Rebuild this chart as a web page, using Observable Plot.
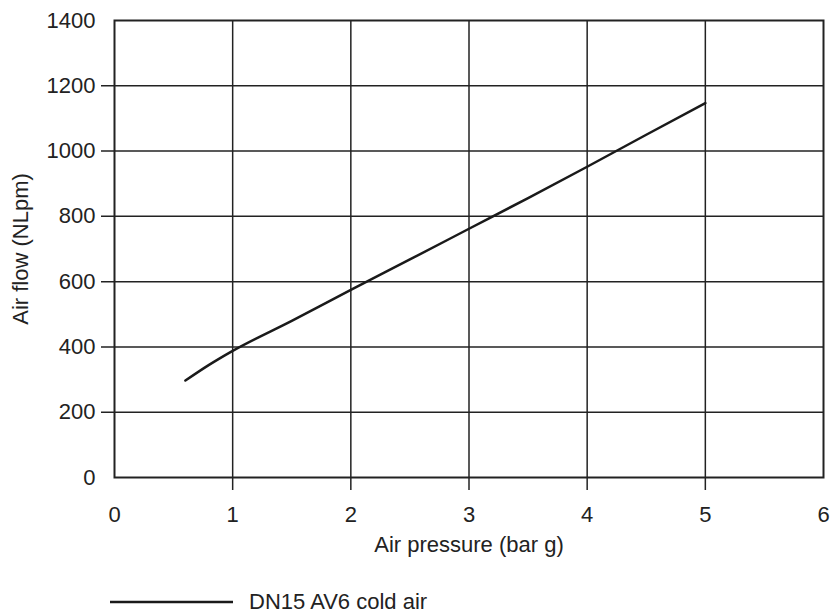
<!DOCTYPE html>
<html>
<head>
<meta charset="utf-8">
<script src="https://cdn.jsdelivr.net/npm/d3@7"></script>
<script src="https://cdn.jsdelivr.net/npm/@observablehq/plot@0.6"></script>
<style>
  body { margin: 0; background: #fff; font-family: "Liberation Sans", Arial, sans-serif; }
  #legend { display: flex; align-items: center; height: 26px; margin-top: 14px; margin-left: 110px; font-size: 22px; color: #222; line-height: 26px; }
  #legend svg { margin-right: 16px; }
</style>
</head>
<body>
<div id="chart"></div>
<div id="legend"></div>
<script>
const pressure = [0.6, 0.8, 1.0, 1.5, 2.0, 2.5, 3.0, 3.5, 4.0, 4.5, 5.0];
const flow     = [297, 345, 388, 480, 575, 668, 762, 856, 952, 1050, 1147];
const seriesName = "DN15 AV6 cold air";
const xTicks = [0, 1, 2, 3, 4, 5, 6];
const yTicks = [0, 200, 400, 600, 800, 1000, 1200, 1400];

const data = pressure.map((p, i) => ({pressure: p, flow: flow[i]}));
const ink = "#222";

const chart = Plot.plot({
  width: 830,
  height: 575,
  marginLeft: 114,
  marginRight: 7,
  marginTop: 20,
  marginBottom: 98,
  style: {fontFamily: "'Liberation Sans', Arial, sans-serif", fontSize: "22px", color: ink, background: "#fff", overflow: "visible"},
  x: {domain: [0, 6]},
  y: {domain: [0, 1400]},
  marks: [
    Plot.ruleX(xTicks.slice(1, -1), {stroke: ink, strokeWidth: 1.5, insetBottom: -13}),
    Plot.ruleY(yTicks.slice(1, -1), {stroke: ink, strokeWidth: 1.5, insetLeft: -13}),
    Plot.frame({stroke: ink, strokeWidth: 2}),
    Plot.axisX(xTicks, {tickSize: 0, tickPadding: 29, fontSize: 22, tickFormat: d => String(d), label: "Air pressure (bar g)", labelAnchor: "center", labelOffset: 74, labelArrow: "none"}),
    Plot.axisY(yTicks, {tickSize: 0, tickPadding: 19, fontSize: 22, tickFormat: d => String(d), label: "Air flow (NLpm)", labelAnchor: "center", labelOffset: 102, labelArrow: "none"}),
    Plot.line(data, {x: "pressure", y: "flow", stroke: "#1a1a1a", strokeWidth: 2.5, curve: "monotone-x"})
  ]
});
document.getElementById("chart").appendChild(chart);

const lg = document.getElementById("legend");
const ns = "http://www.w3.org/2000/svg";
const s = document.createElementNS(ns, "svg");
s.setAttribute("width", 123); s.setAttribute("height", 4);
const ln = document.createElementNS(ns, "line");
ln.setAttribute("x1", 0); ln.setAttribute("x2", 123); ln.setAttribute("y1", 2); ln.setAttribute("y2", 2);
ln.setAttribute("stroke", "#1a1a1a"); ln.setAttribute("stroke-width", 2.5);
s.appendChild(ln);
lg.appendChild(s);
const t = document.createElement("span");
t.textContent = seriesName;
lg.appendChild(t);
</script>
</body>
</html>
